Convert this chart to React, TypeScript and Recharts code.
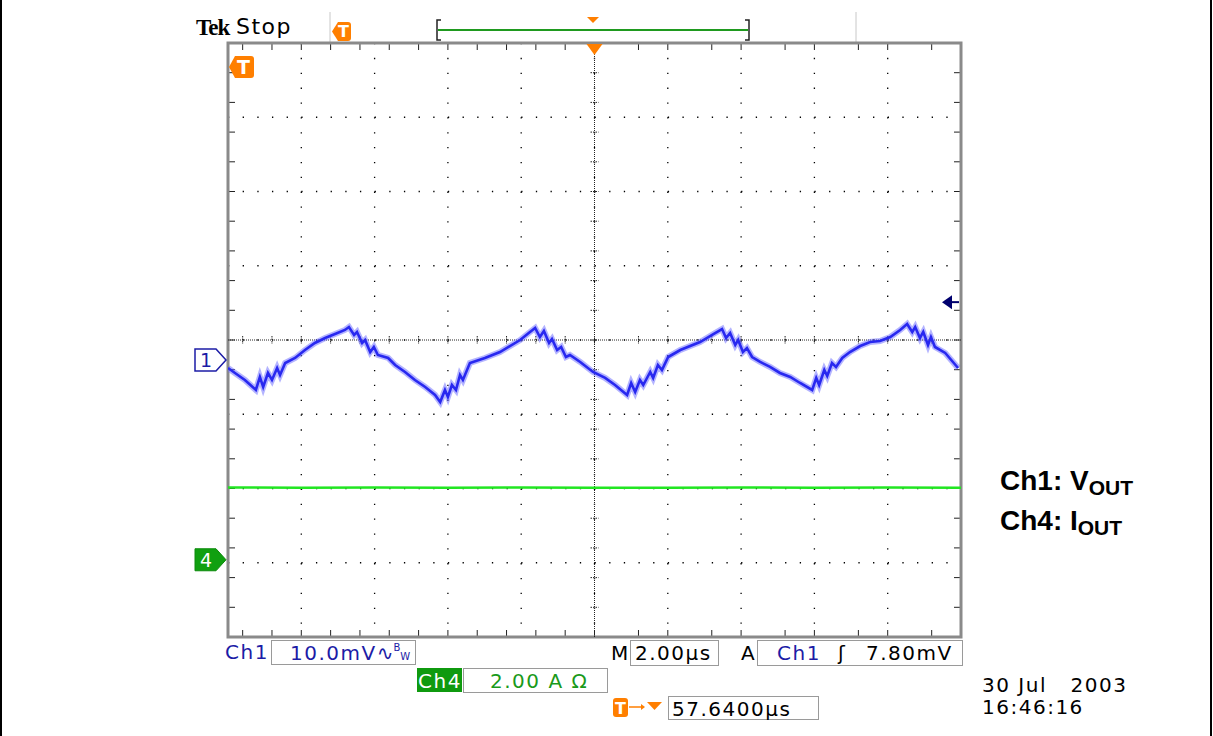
import React from "react";
import {
  ComposedChart,
  Line,
  XAxis,
  YAxis,
  CartesianGrid,
  ReferenceLine,
  ReferenceArea,
  ReferenceDot,
} from "recharts";

// Ch1 (Vout ripple): time in µs, level in mV relative to the Ch1 ground marker
const ch1Time = [
  0, 0.19, 0.46, 0.76, 0.87, 0.96, 1.09, 1.2, 1.34, 1.42,
  1.56, 1.83, 2.1, 2.37, 2.65, 2.92, 3.19, 3.3, 3.44, 3.52,
  3.66, 3.74, 3.88, 3.98, 4.09, 4.37, 4.56, 4.83, 5.1, 5.38,
  5.65, 5.79, 5.92, 6.0, 6.11, 6.22, 6.33, 6.41, 6.6, 7.01,
  7.42, 7.97, 8.24, 8.38, 8.51, 8.62, 8.76, 8.84, 8.98, 9.09,
  9.22, 9.33, 9.61, 9.96, 10.29, 10.56, 10.89, 11.0, 11.11, 11.24,
  11.33, 11.52, 11.6, 11.73, 11.84, 12.01, 12.34, 12.88, 13.29, 13.48,
  13.59, 13.7, 13.84, 13.92, 14.05, 14.16, 14.3, 14.52, 14.79, 15.06,
  15.34, 15.61, 15.94, 16.05, 16.13, 16.27, 16.35, 16.48, 16.59, 16.76,
  16.97, 17.25, 17.52, 17.79, 18.07, 18.34, 18.53, 18.67, 18.75, 18.88,
  18.97, 19.1, 19.18, 19.29, 19.57, 19.92,
];
const ch1Mv = [
  -1.07, -1.74, -2.68, -4.03, -2.28, -3.63, -1.74, -2.68, -1.07, -2.01,
  -0.4, 0.28, 1.35, 2.3, 2.97, 3.51, 4.05, 4.45, 3.37, 3.78,
  2.3, 2.7, 1.08, 1.76, 0.68, 0.28, -0.67, -1.61, -2.68, -3.63,
  -4.7, -5.65, -4.03, -4.97, -3.36, -4.03, -2.01, -2.68, -0.4, 0.28,
  1.08, 2.7, 3.78, 4.32, 3.1, 3.91, 2.3, 2.83, 1.35, 1.76,
  0.41, 0.68, -0.26, -1.61, -2.41, -3.36, -4.7, -3.09, -4.3, -2.68,
  -3.36, -1.61, -2.41, -0.67, -1.34, 0.41, 1.35, 2.43, 3.64, 4.18,
  2.97, 3.64, 2.03, 2.7, 1.08, 1.62, 0.41, -0.26, -0.93, -1.74,
  -2.28, -3.09, -4.03, -2.41, -3.36, -1.34, -2.15, -0.4, -0.93, 0.28,
  1.08, 1.89, 2.43, 2.57, 3.1, 4.05, 4.85, 3.78, 4.45, 2.97,
  3.78, 2.03, 3.1, 1.76, 0.95, -1.07,
];

// Ch4 (Iout): flat current in A
const ch4Time = [0, 2, 4, 6, 8, 10, 12, 14, 16, 18, 20];
const ch4Amps = [1.95, 1.94, 1.95, 1.94, 1.95, 1.94, 1.94, 1.95, 1.94, 1.95, 1.94];

// screen: 10 divisions of 2 µs, 8 vertical divisions, minor marks every 1/5 division
const timeDivTicks = [0, 2, 4, 6, 8, 10, 12, 14, 16, 18, 20];
const vertDivTicks = [-4, -3, -2, -1, 0, 1, 2, 3, 4];
const timeMinorTicks = Array.from({ length: 51 }, (_, i) => Math.round(i * 4) / 10);
const vertMinorTicks = Array.from({ length: 41 }, (_, i) => Math.round(-40 + i * 2) / 10);

const CH1_MV_PER_DIV = 10;
const CH1_OFFSET = -0.27;
const CH4_A_PER_DIV = 2;
const CH4_OFFSET = -2.96;
const TRIG_LEVEL_MV = 7.8;
const TRIG_POS_US = 10;

const BLUE = "#1c1ca6";
const ORANGE = "#ff7f00";
const GREEN_TXT = "#1a9a1a";
const TICK = "#222";

const ch1Data = ch1Time.map((t, i) => ({ t, v: ch1Mv[i] / CH1_MV_PER_DIV + CH1_OFFSET }));
const ch4Data = ch4Time.map((t, i) => ({ t, v: ch4Amps[i] / CH4_A_PER_DIV + CH4_OFFSET }));

// minor graticule marks: on both frame edges and across the centre line
const minorVertical = (p: any) => {
  const x = p.x1;
  const top = Math.min(p.y1, p.y2);
  const bot = Math.max(p.y1, p.y2);
  const mid = (top + bot) / 2;
  return (
    <g key={p.key ?? `mv${x}`}>
      <line x1={x} x2={x} y1={top} y2={top + 7} stroke={TICK} />
      <line x1={x} x2={x} y1={bot - 7} y2={bot} stroke={TICK} />
      <line x1={x} x2={x} y1={mid - 4} y2={mid + 4} stroke={TICK} strokeDasharray="1.5 1" />
    </g>
  );
};
const minorHorizontal = (p: any) => {
  const y = p.y1;
  const left = Math.min(p.x1, p.x2);
  const right = Math.max(p.x1, p.x2);
  const mid = (left + right) / 2;
  return (
    <g key={p.key ?? `mh${y}`}>
      <line x1={left} x2={left + 7} y1={y} y2={y} stroke={TICK} />
      <line x1={right - 7} x2={right} y1={y} y2={y} stroke={TICK} />
      <line x1={mid - 4} x2={mid + 4} y1={y} y2={y} stroke={TICK} strokeDasharray="1.5 1" />
    </g>
  );
};

const Ch1Marker = (p: any) => {
  const { cx, cy } = p;
  const x = cx - 33;
  return (
    <g>
      <path
        d={`M${x},${cy - 11} H${x + 21} L${x + 31},${cy} L${x + 21},${cy + 11} H${x} Z`}
        fill="#fff"
        stroke={BLUE}
        strokeWidth={1.5}
      />
      <text x={x + 11} y={cy + 7} textAnchor="middle" fontSize={19} fill={BLUE} fontFamily="DejaVu Sans">
        1
      </text>
    </g>
  );
};

const Ch4Marker = (p: any) => {
  const { cx, cy } = p;
  const x = cx - 33;
  return (
    <g>
      <path
        d={`M${x},${cy - 11} H${x + 21} L${x + 31},${cy} L${x + 21},${cy + 11} H${x} Z`}
        fill="#10a010"
        stroke="#0c8a0c"
        strokeWidth={1}
      />
      <text x={x + 11} y={cy + 7} textAnchor="middle" fontSize={19} fill="#fff" fontFamily="DejaVu Sans">
        4
      </text>
    </g>
  );
};

const TrigLevelArrow = (p: any) => {
  const { cx, cy } = p;
  return (
    <g>
      <polygon points={`${cx - 19},${cy} ${cx - 9},${cy - 7} ${cx - 9},${cy + 7}`} fill="#00006e" />
      <line x1={cx - 10} x2={cx - 2} y1={cy} y2={cy} stroke="#00006e" strokeWidth={2} />
    </g>
  );
};

const TrigPosMarker = (p: any) => {
  const { cx, cy } = p;
  return <polygon points={`${cx - 8},${cy + 1} ${cx + 8},${cy + 1} ${cx},${cy + 12}`} fill={ORANGE} />;
};

const TTag = ({ x, y, w, h }: { x: number; y: number; w: number; h: number }) => (
  <g>
    <path
      d={`M${x + 6},${y} H${x + w - 3} Q${x + w},${y} ${x + w},${y + 3} V${y + h - 3} Q${x + w},${y + h} ${x + w - 3},${y + h} H${x + 6} L${x},${y + h / 2} Z`}
      fill={ORANGE}
    />
    <text x={x + w / 2 + 2} y={y + h - 4} textAnchor="middle" fontSize={h - 3} fontWeight="bold" fill="#fff" fontFamily="DejaVu Sans">
      T
    </text>
  </g>
);

const box = (left: number, top: number, width: number, height: number): React.CSSProperties => ({
  position: "absolute",
  left,
  top,
  width,
  height,
  border: "1px solid #9a9a9a",
  boxSizing: "border-box",
});

const txt = (left: number, top: number, color: string, size = 20): React.CSSProperties => ({
  position: "absolute",
  left,
  top,
  color,
  fontSize: size,
  lineHeight: 1,
  letterSpacing: 1.5,
  whiteSpace: "pre",
  fontFamily: "DejaVu Sans",
});

export default function App() {
  return (
    <div
      style={{
        position: "fixed",
        left: 0,
        top: 0,
        width: 1213,
        height: 736,
        background: "#fff",
        overflow: "hidden",
      }}
    >
      <div style={{ position: "absolute", left: 0, top: 0, width: 2, height: 736, background: "#000" }} />
      <div style={{ position: "absolute", left: 1210, top: 0, width: 2, height: 736, background: "#000" }} />

      {/* record bar */}
      <svg width={1213} height={736} style={{ position: "absolute", left: 0, top: 0 }}>
        <line x1={330} x2={330} y1={12} y2={42} stroke="#c8c8c8" />
        <line x1={856} x2={856} y1={12} y2={42} stroke="#c8c8c8" />
        <path d="M441,20 H437 V40 H441" fill="none" stroke="#222" strokeWidth={1.5} />
        <path d="M745,20 H749 V40 H745" fill="none" stroke="#222" strokeWidth={1.5} />
        <line x1={438} x2={748} y1={30} y2={30} stroke="#1f9a1f" strokeWidth={2} />
        <polygon points="587,17 599,17 593,23" fill={ORANGE} />
        <TTag x={332} y={22} w={19} h={19} />
      </svg>

      <div style={{ position: "absolute", left: 0, top: 0 }}>
        <ComposedChart width={1213} height={736} margin={{ top: 43, right: 252, bottom: 99, left: 228 }}>
          <XAxis dataKey="t" type="number" domain={[0, 20]} ticks={timeDivTicks} hide allowDataOverflow />
          <YAxis dataKey="v" type="number" domain={[-4, 4]} ticks={vertDivTicks} hide allowDataOverflow />
          <XAxis xAxisId="minor" dataKey="t" type="number" domain={[0, 20]} ticks={timeMinorTicks} hide allowDataOverflow />
          <YAxis yAxisId="minor" dataKey="v" type="number" domain={[-4, 4]} ticks={vertMinorTicks} hide allowDataOverflow />
          <CartesianGrid horizontal={false} stroke="#000" strokeWidth={1.3} strokeDasharray="1.3 13.56" />
          <CartesianGrid vertical={false} stroke="#000" strokeWidth={1.3} strokeDasharray="1.3 13.36" />
          <CartesianGrid xAxisId="minor" horizontal={false} vertical={minorVertical} />
          <CartesianGrid yAxisId="minor" vertical={false} horizontal={minorHorizontal} />
          <ReferenceLine x={TRIG_POS_US} stroke="#222" strokeDasharray="1 1" />
          <ReferenceLine y={0} stroke="#222" strokeDasharray="1 1" />
          <ReferenceArea x1={0} x2={20} y1={-4} y2={4} fill="none" stroke="#8a8a8a" strokeWidth={3} />
          <Line
            data={ch4Data}
            dataKey="v"
            type="linear"
            stroke="#22e622"
            strokeWidth={2.5}
            dot={false}
            isAnimationActive={false}
          />
          <Line
            data={ch1Data}
            dataKey="v"
            type="linear"
            stroke="#6a6aff"
            strokeOpacity={0.5}
            strokeWidth={6}
            dot={false}
            isAnimationActive={false}
          />
          <Line
            data={ch1Data}
            dataKey="v"
            type="linear"
            stroke="#2828f0"
            strokeWidth={2.6}
            dot={false}
            isAnimationActive={false}
          />
          <ReferenceDot x={0} y={CH1_OFFSET} shape={Ch1Marker} />
          <ReferenceDot x={0} y={CH4_OFFSET} shape={Ch4Marker} />
          <ReferenceDot x={20} y={TRIG_LEVEL_MV / CH1_MV_PER_DIV + CH1_OFFSET} shape={TrigLevelArrow} />
          <ReferenceDot x={TRIG_POS_US} y={4} shape={TrigPosMarker} />
        </ComposedChart>
      </div>

      <svg width={30} height={26} style={{ position: "absolute", left: 228, top: 55 }}>
        <TTag x={1} y={1} w={25} h={22} />
      </svg>

      {/* header */}
      <div style={{ position: "absolute", left: 196, top: 16, fontFamily: "Liberation Serif", fontWeight: "bold", fontSize: 23, lineHeight: 1, color: "#000", letterSpacing: -1 }}>
        Tek
      </div>
      <div style={{ position: "absolute", left: 236, top: 16, fontFamily: "DejaVu Sans", fontSize: 22, lineHeight: 1, color: "#000", letterSpacing: 1.5 }}>
        Stop
      </div>

      {/* readouts */}
      <div style={txt(225, 642, BLUE)}>Ch1</div>
      <div style={box(271, 640, 145, 25)} />
      <div style={txt(290, 643, BLUE)}>
        10.0mV<span style={{ letterSpacing: 0 }}>∿</span>
        <span style={{ fontSize: 10, verticalAlign: "top", letterSpacing: 0 }}>B</span>
        <span style={{ fontSize: 10, letterSpacing: 0 }}>W</span>
      </div>

      <div style={txt(611, 643, "#000")}>M</div>
      <div style={box(630, 640, 89, 26)} />
      <div style={txt(635, 643, "#000")}>2.00µs</div>
      <div style={txt(741, 643, "#000")}>A</div>
      <div style={box(757, 640, 206, 26)} />
      <div style={txt(777, 643, BLUE)}>Ch1</div>
      <div style={txt(838, 643, "#000")}>ʃ</div>
      <div style={txt(866, 643, "#000")}>7.80mV</div>

      <div style={{ position: "absolute", left: 417, top: 668, width: 45, height: 24, background: "#0f9a0f" }} />
      <div style={txt(418, 671, "#fff")}>Ch4</div>
      <div style={box(463, 668, 145, 25)} />
      <div style={txt(490, 671, GREEN_TXT)}>2.00 A Ω</div>

      <svg width={60} height={24} style={{ position: "absolute", left: 612, top: 696 }}>
        <rect x={1} y={2} width={15} height={19} rx={3} fill={ORANGE} />
        <text x={8.5} y={18} textAnchor="middle" fontSize={16} fontWeight="bold" fill="#fff" fontFamily="DejaVu Sans">
          T
        </text>
        <line x1={17} x2={29} y1={11} y2={11} stroke={ORANGE} strokeWidth={1.5} />
        <polygon points="29,8 33,11 29,14" fill={ORANGE} />
        <polygon points="35,6 50,6 42.5,14" fill={ORANGE} />
      </svg>
      <div style={box(668, 696, 151, 24)} />
      <div style={txt(672, 699, "#000")}>57.6400µs</div>

      <div style={txt(982, 675, "#000")}>30 Jul   2003</div>
      <div style={txt(982, 697, "#000")}>16:46:16</div>

      {/* channel legend */}
      <div style={{ position: "absolute", left: 1000, top: 467, fontFamily: "Liberation Sans", fontWeight: "bold", fontSize: 28, lineHeight: 1, color: "#000", whiteSpace: "pre" }}>
        Ch1: V<span style={{ fontSize: 21, position: "relative", top: 5 }}>OUT</span>
      </div>
      <div style={{ position: "absolute", left: 1000, top: 507, fontFamily: "Liberation Sans", fontWeight: "bold", fontSize: 28, lineHeight: 1, color: "#000", whiteSpace: "pre" }}>
        Ch4: I<span style={{ fontSize: 21, position: "relative", top: 5 }}>OUT</span>
      </div>
    </div>
  );
}
